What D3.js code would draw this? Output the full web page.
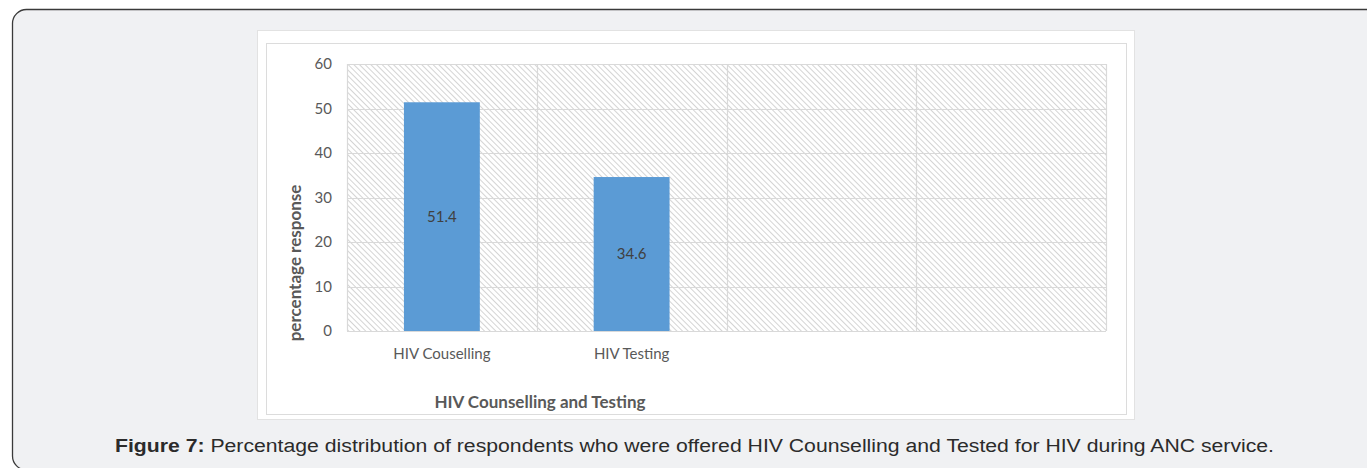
<!DOCTYPE html>
<html>
<head>
<meta charset="utf-8">
<script src="https://cdn.jsdelivr.net/npm/d3@7"></script>
<style>
  html, body { margin: 0; padding: 0; background: #ffffff; }
  svg { display: block; }
</style>
</head>
<body>
<svg id="fig" width="1367" height="468"></svg>
<script>
// Survey results: share of respondents offered counselling / tested for HIV
const categories = ["HIV Couselling", "HIV Testing", "", " "];
const percentValues = [51.4, 34.6, null, null];
const yTicks = [0, 10, 20, 30, 40, 50, 60];
const yTitle = "percentage response";
const xTitle = "HIV Counselling and Testing";
const captionLead = "Figure 7:";
const captionText = " Percentage distribution of respondents who were offered HIV Counselling and Tested for HIV during ANC service.";

const svg = d3.select("#fig");
const chartFont = "Lato, 'Open Sans', sans-serif";

// Outer figure panel with rounded corners
svg.append("rect")
  .attr("x", 12.5).attr("y", 9.5)
  .attr("width", 1380).attr("height", 460.5)
  .attr("rx", 14).attr("ry", 14)
  .attr("fill", "#f0f1f3")
  .attr("stroke", "#3a3a3a").attr("stroke-width", 1.3);

// White chart image area
svg.append("rect")
  .attr("x", 257.5).attr("y", 30.5)
  .attr("width", 877).attr("height", 389)
  .attr("fill", "#ffffff")
  .attr("stroke", "#e2e2e2");

// Inner chart border
svg.append("rect")
  .attr("x", 266.5).attr("y", 43.5)
  .attr("width", 860).attr("height", 371)
  .attr("fill", "none")
  .attr("stroke", "#dcdcdc");

// Plot area
const plot = { left: 347, right: 1106, top: 64, bottom: 331 };

const x = d3.scaleBand()
  .domain(categories)
  .range([plot.left, plot.right])
  .paddingInner(0.6)
  .paddingOuter(0.3);

const y = d3.scaleLinear()
  .domain([0, 60])
  .range([plot.bottom, plot.top]);

// Diagonal hatch fill for the plot background
const defs = svg.append("defs");
const pat = defs.append("pattern")
  .attr("id", "hatch")
  .attr("patternUnits", "userSpaceOnUse")
  .attr("width", 4).attr("height", 4)
  .attr("patternTransform", "rotate(-45)");
pat.append("rect").attr("width", 4).attr("height", 4).attr("fill", "#ffffff");
pat.append("line")
  .attr("x1", 0.5).attr("y1", 0).attr("x2", 0.5).attr("y2", 4)
  .attr("stroke", "#d4d4d4").attr("stroke-width", 1);

svg.append("rect")
  .attr("x", plot.left).attr("y", plot.top)
  .attr("width", plot.right - plot.left)
  .attr("height", plot.bottom - plot.top)
  .attr("fill", "url(#hatch)");

// Horizontal gridlines
svg.append("g")
  .selectAll("line")
  .data(yTicks)
  .join("line")
  .attr("x1", plot.left).attr("x2", plot.right)
  .attr("y1", d => Math.round(y(d)) + 0.5)
  .attr("y2", d => Math.round(y(d)) + 0.5)
  .attr("stroke", "#d9d9d9").attr("stroke-width", 1.2);

// Vertical category separators
const bounds = d3.range(categories.length + 1).map(i => plot.left + i * (plot.right - plot.left) / categories.length);
svg.append("g")
  .selectAll("line")
  .data(bounds)
  .join("line")
  .attr("x1", d => Math.round(d) + 0.5).attr("x2", d => Math.round(d) + 0.5)
  .attr("y1", plot.top).attr("y2", plot.bottom)
  .attr("stroke", "#d9d9d9").attr("stroke-width", 1.2);

// Y axis labels
const yAxis = d3.axisLeft(y).tickValues(yTicks).tickSize(0).tickPadding(15);
const gy = svg.append("g")
  .attr("transform", `translate(${plot.left},0)`)
  .call(yAxis);
gy.select(".domain").remove();
gy.selectAll("text")
  .attr("font-family", chartFont)
  .attr("font-size", 15)
  .attr("fill", "#595959");

// X axis labels
const xAxis = d3.axisBottom(x).tickSize(0).tickPadding(17);
const gx = svg.append("g")
  .attr("transform", `translate(0,${plot.bottom})`)
  .call(xAxis);
gx.select(".domain").remove();
gx.selectAll("text")
  .attr("font-family", chartFont)
  .attr("font-size", 15)
  .attr("fill", "#595959");

// Bars
const data = categories.map((c, i) => ({ c, v: percentValues[i] })).filter(d => d.v != null);
svg.append("g")
  .selectAll("rect")
  .data(data)
  .join("rect")
  .attr("x", d => x(d.c))
  .attr("width", x.bandwidth())
  .attr("y", d => y(d.v))
  .attr("height", d => y(0) - y(d.v))
  .attr("fill", "#5b9bd5");

// Value labels centred inside bars
svg.append("g")
  .selectAll("text")
  .data(data)
  .join("text")
  .attr("x", d => x(d.c) + x.bandwidth() / 2)
  .attr("y", d => (y(d.v) + y(0)) / 2)
  .attr("dy", "0.35em")
  .attr("text-anchor", "middle")
  .attr("font-family", chartFont)
  .attr("font-size", 15)
  .attr("fill", "#404040")
  .text(d => d.v.toFixed(1));

// Axis titles
svg.append("text")
  .attr("transform", `translate(301,263) rotate(-90)`)
  .attr("text-anchor", "middle")
  .attr("font-family", chartFont)
  .attr("font-size", 17)
  .attr("font-weight", "bold")
  .attr("fill", "#595959")
  .text(yTitle);

svg.append("text")
  .attr("x", 540).attr("y", 408)
  .attr("text-anchor", "middle")
  .attr("font-family", chartFont)
  .attr("font-size", 17)
  .attr("font-weight", "bold")
  .attr("fill", "#595959")
  .text(xTitle);

// Caption, stretched horizontally to span its line
const capX = 115, capY = 452, capWidth = 1160;
const capG = svg.append("g");
const cap = capG.append("text")
  .attr("x", 0).attr("y", 0)
  .attr("font-family", "'Liberation Sans', Arial, sans-serif")
  .attr("font-size", 19)
  .attr("fill", "#2b2b2b");
cap.append("tspan").attr("font-weight", "bold").text(captionLead);
cap.append("tspan").text(captionText);
const natural = cap.node().getComputedTextLength();
capG.attr("transform", `translate(${capX},${capY}) scale(${capWidth / natural},1)`);
</script>
</body>
</html>
